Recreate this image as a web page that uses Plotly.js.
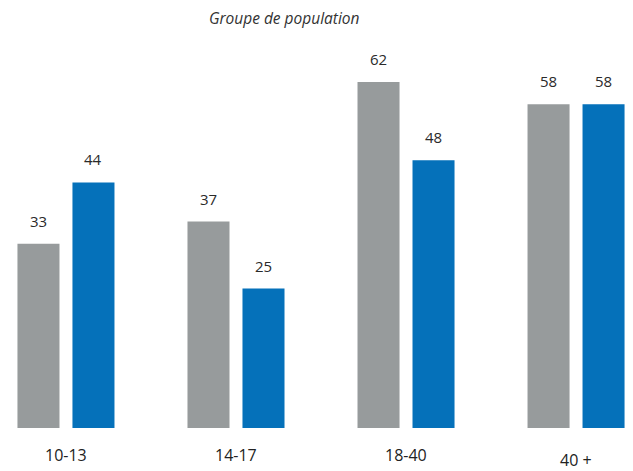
<!DOCTYPE html>
<html>
<head>
<meta charset="utf-8">
<script src="https://cdn.plot.ly/plotly-3.0.1.min.js"></script>
<style>html,body{margin:0;padding:0;background:#fff;}#chart{width:633px;height:471px;}</style>
</head>
<body>
<div id="chart"></div>
<script>
var categories = ["10-13", "14-17", "18-40", "40 +"];
var seriesGrey = [33, 37, 62, 58];
var seriesBlue = [44, 25, 48, 58];
var titleText = "Groupe de population";

var xIdx = categories.map(function(_, i){ return i; });
var font = "'Open Sans', 'Noto Sans', sans-serif";

var traces = [
  {type: "bar", x: xIdx, y: seriesGrey, marker: {color: "#979b9c"}, hoverinfo: "none", name: "A"},
  {type: "bar", x: xIdx, y: seriesBlue, marker: {color: "#0571ba"}, hoverinfo: "none", name: "B"}
];

var annotations = [];
[seriesGrey, seriesBlue].forEach(function(series, s){
  series.forEach(function(v, i){
    annotations.push({x: i, y: v, xref: "x", yref: "y", text: String(v), showarrow: false,
      xshift: s === 0 ? -27.5 : 27.5, yshift: 11, yanchor: "bottom",
      font: {family: font, size: 15, color: "#2a2a2a"}});
  });
});
categories.forEach(function(c, i){
  annotations.push({x: i, y: 0, xref: "x", yref: "paper", text: c, showarrow: false,
    yanchor: "top", yshift: c.indexOf("+") >= 0 ? -19 : -14,
    font: {family: font, size: 16, color: "#222"}});
});

var layout = {
  width: 633, height: 471,
  margin: {l: 0, r: 0, t: 60, b: 43},
  paper_bgcolor: "#fff", plot_bgcolor: "#fff",
  showlegend: false,
  barmode: "group", bargap: 0.353, bargroupgap: 0.236,
  title: {text: "<i>" + titleText + "</i>", x: 0.449, xanchor: "center", y: 0.96, yanchor: "middle",
          font: {family: font, size: 15.5, color: "#333"}},
  xaxis: {range: [-0.388, 3.335], showgrid: false, zeroline: false, showticklabels: false, showline: false},
  yaxis: {range: [0, 65.95], showgrid: false, zeroline: false, showticklabels: false, showline: false},
  annotations: annotations
};

Plotly.newPlot("chart", traces, layout, {displayModeBar: false, staticPlot: true});
</script>
</body>
</html>
